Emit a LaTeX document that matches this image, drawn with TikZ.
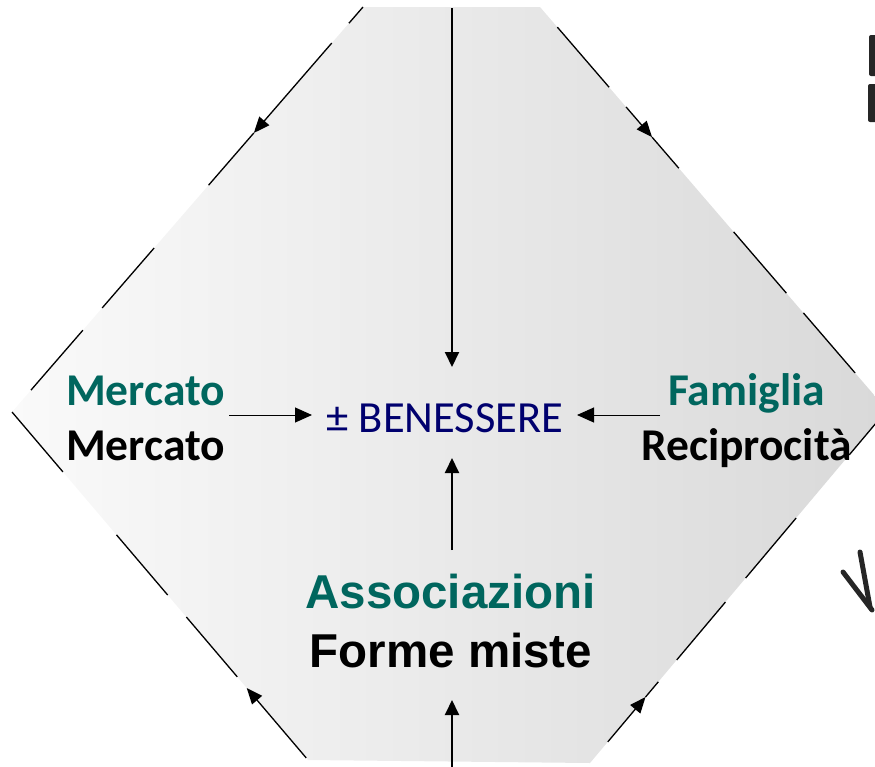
\documentclass[tikz,border=0pt]{standalone}
\usepackage{fontspec}
\setmainfont{Carlito}
\newfontfamily\arialf{Liberation Sans}
\usetikzlibrary{arrows.meta,calc}
\definecolor{tealc}{RGB}{0,102,94}
\definecolor{navyc}{RGB}{0,0,110}
\begin{document}
\begin{tikzpicture}[x=1pt,y=1pt,
  edge/.style={line width=1.3pt, black},
  edgearr/.style={edge, -{Triangle[length=16pt,width=13pt]}},
  varr/.style={line width=2pt, -{Triangle[length=15pt,width=14pt]}},
  harr/.style={line width=1pt, -{Triangle[length=17pt,width=15pt]}},
  calab/.style={inner sep=0pt, anchor=base, font=\fontsize{45.5}{52}\selectfont\bfseries},
  arlab/.style={inner sep=0pt, anchor=base, font=\arialf\bfseries\fontsize{47.5}{55}\selectfont},
  frag/.style={black!85}
]
\useasboundingbox (0,0) rectangle (875,-766);
% corners of the shape
\coordinate (A) at (363,-7);
\coordinate (B) at (540,-7);
\coordinate (R) at (887,-410);
\coordinate (D) at (590,-763);
\coordinate (C) at (308,-760);
\coordinate (L) at (12,-412);
\shade[left color=black!2, right color=black!15] (A) -- (B) -- (R) -- (D) -- (C) -- (L) -- cycle;

% upper-left edge
\draw[edge] ($(A)!0!(L)$) -- ($(A)!0.04!(L)$);
\draw[edgearr] ($(A)!0.089!(L)$) -- ($(A)!0.311!(L)$);
\draw[edge] ($(A)!0.311!(L)$) -- ($(A)!0.44!(L)$);
\draw[edge] ($(A)!0.595!(L)$) -- ($(A)!0.743!(L)$);
\draw[edge] ($(A)!0.798!(L)$) -- ($(A)!0.946!(L)$);
% upper-right edge
\draw[edge] ($(B)!0.05!(R)$) -- ($(B)!0.199!(R)$);
\draw[edgearr] ($(B)!0.248!(R)$) -- ($(B)!0.323!(R)$);
\draw[edge] ($(B)!0.323!(R)$) -- ($(B)!0.40!(R)$);
\draw[edge] ($(B)!0.558!(R)$) -- ($(B)!0.71!(R)$);
\draw[edge] ($(B)!0.759!(R)$) -- ($(B)!0.908!(R)$);
% lower-right edge
\draw[edge] ($(R)!0.037!(D)$) -- ($(R)!0.127!(D)$);
\draw[edge] ($(R)!0.306!(D)$) -- ($(R)!0.476!(D)$);
\draw[edge] ($(R)!0.544!(D)$) -- ($(R)!0.708!(D)$);
\draw[edgearr] ($(R)!0.94!(D)$) -- ($(R)!0.813!(D)$);
\draw[edge] ($(R)!0.813!(D)$) -- ($(R)!0.77!(D)$);
% lower-left edge
\draw[edge] ($(L)!0!(C)$) -- ($(L)!0.172!(C)$);
\draw[edge] ($(L)!0.353!(C)$) -- ($(L)!0.526!(C)$);
\draw[edge] ($(L)!0.589!(C)$) -- ($(L)!0.761!(C)$);
\draw[edgearr] ($(L)!0.994!(C)$) -- ($(L)!0.793!(C)$);

% labels
\node[calab, text=tealc] (merc1) at (145.5,-405) {Mercato};
\node[calab, text=black] (merc2) at (145.5,-460) {Mercato};
\node[calab, text=tealc] (fam) at (746.5,-405) {Famiglia};
\node[calab, text=black] (rec) at (746.5,-460) {Reciprocità};
\node[inner sep=0pt, anchor=base, text=navyc, font=\fontsize{44.5}{52}\selectfont] (ben) at (445,-432) {± BENESSERE};
\node[arlab, text=tealc] (assoc) at (450.5,-608) {Associazioni};
\node[arlab, text=black] (forme) at (451,-667) {Forme miste};

% arrows to BENESSERE
\coordinate (topin) at (452,-8);
\coordinate (bentop) at (452,-367);
\coordinate (assoctop) at (452,-550);
\coordinate (benbot) at (452,-458);
\coordinate (botin) at (452,-770);
\coordinate (formebot) at (452,-700);
\coordinate (mercout) at (229,-415);
\coordinate (benleft) at (312,-415);
\coordinate (famout) at (660,-415);
\coordinate (benright) at (577,-415);
\draw[varr] (topin) -- (bentop);
\draw[varr] (assoctop) -- (benbot);
\draw[varr] (botin) -- (formebot);
\draw[harr] (mercout) -- (benleft);
\draw[harr] (famout) -- (benright);

% cropped fragments at right margin
\fill[frag, rounded corners=2pt] (869,-35) rectangle (878,-76);
\fill[frag, rounded corners=2pt] (868,-84) rectangle (878,-122);
\draw[frag, line width=5pt, line cap=round] (843,-572) -- (872,-610);
\draw[frag, line width=5pt, line cap=round] (860,-552) -- (870,-607);
\end{tikzpicture}
\end{document}
